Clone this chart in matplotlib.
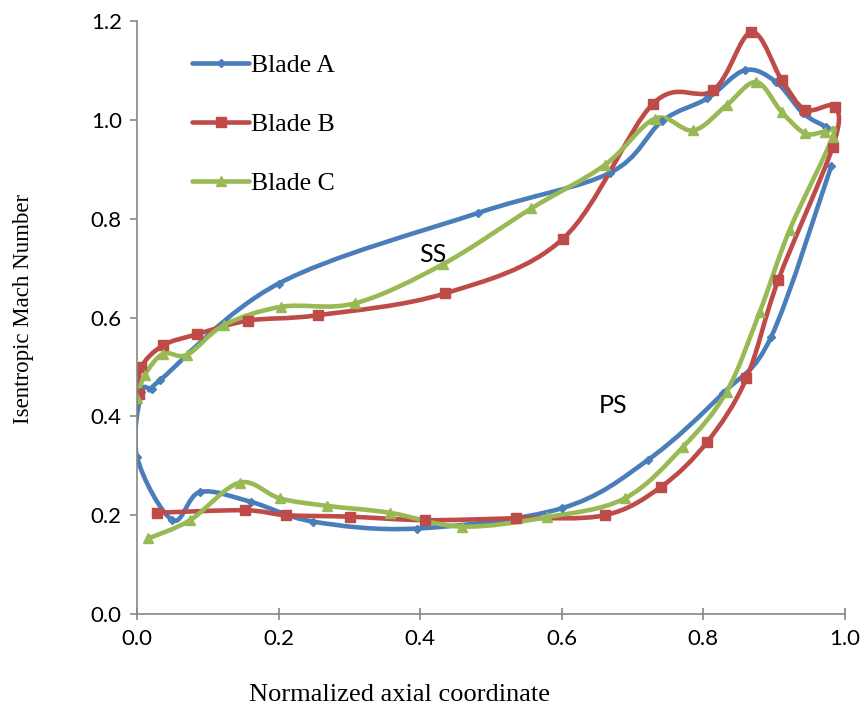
import numpy as np
import matplotlib.pyplot as plt
from matplotlib.path import Path
from matplotlib.patches import PathPatch
from matplotlib.lines import Line2D

# blade A: suction side from trailing edge round the leading edge, then pressure side
blade_a_x = [0.974, 0.941, 0.903, 0.859, 0.806, 0.742, 0.668, 0.482, 0.200,
             0.033, 0.021, 0.006, 0.000,
             0.050, 0.089, 0.161, 0.249, 0.395, 0.600, 0.722, 0.828, 0.896, 0.981]
blade_a_y = [0.986, 1.014, 1.077, 1.101, 1.044, 0.998, 0.893, 0.812, 0.669,
             0.474, 0.455, 0.449, 0.318,
             0.190, 0.247, 0.227, 0.187, 0.173, 0.214, 0.312, 0.447, 0.561, 0.907]

# blade B: suction side from leading edge to trailing edge, then pressure side back
blade_b_x = [0.003, 0.006, 0.037, 0.084, 0.157, 0.256, 0.435, 0.602, 0.729,
             0.814, 0.868, 0.911, 0.944, 0.986, 0.983,
             0.906, 0.861, 0.806, 0.741, 0.661, 0.536, 0.407, 0.301, 0.211,
             0.152, 0.028]
blade_b_y = [0.445, 0.500, 0.544, 0.566, 0.594, 0.605, 0.649, 0.760, 1.033,
             1.060, 1.178, 1.081, 1.021, 1.027, 0.946,
             0.676, 0.477, 0.349, 0.258, 0.200, 0.194, 0.190, 0.197, 0.200,
             0.210, 0.205]

# blade C: same ordering as blade B
blade_c_x = [0.000, 0.011, 0.037, 0.071, 0.123, 0.204, 0.308, 0.432, 0.557,
             0.661, 0.732, 0.786, 0.833, 0.875, 0.911, 0.944, 0.972, 0.983,
             0.922, 0.880, 0.833, 0.772, 0.689, 0.579, 0.459, 0.357, 0.268,
             0.202, 0.145, 0.075, 0.016]
blade_c_y = [0.438, 0.484, 0.527, 0.525, 0.585, 0.622, 0.629, 0.708, 0.821,
             0.909, 1.003, 0.979, 1.030, 1.077, 1.016, 0.973, 0.976, 0.966,
             0.777, 0.612, 0.450, 0.339, 0.234, 0.196, 0.177, 0.205, 0.219,
             0.234, 0.266, 0.190, 0.153]

labels = ['Blade A', 'Blade B', 'Blade C']
colors = ['#4A7EBB', '#BE4B48', '#98B954']
markers = ['D', 's', '^']
marker_sizes = [4.5, 6.5, 7]

x_ticks = [0.0, 0.2, 0.4, 0.6, 0.8, 1.0]
y_ticks = [0.0, 0.2, 0.4, 0.6, 0.8, 1.0, 1.2]

tick_font = 'Lato'
serif = 'Liberation Serif'
axis_gray = '#868686'


def smooth_path(xs, ys):
    # bezier segments through every point, tangents from the neighbours (excel style)
    p = np.column_stack([xs, ys])
    n = len(p)
    verts = [p[0]]
    codes = [Path.MOVETO]
    for i in range(n - 1):
        prev = p[i - 1] if i > 0 else p[i]
        nxt = p[i + 2] if i + 2 < n else p[i + 1]
        c1 = p[i] + (p[i + 1] - prev) / 6.0
        c2 = p[i + 1] - (nxt - p[i]) / 6.0
        verts += [c1, c2, p[i + 1]]
        codes += [Path.CURVE4] * 3
    return Path(verts, codes)


fig = plt.figure(figsize=(8.62, 7.09), dpi=100)
ax = fig.add_axes([0.159, 0.134, 0.821, 0.836])

series = [(blade_a_x, blade_a_y), (blade_b_x, blade_b_y), (blade_c_x, blade_c_y)]
handles = []
for (xs, ys), lab, col, mk, ms in zip(series, labels, colors, markers, marker_sizes):
    ax.add_patch(PathPatch(smooth_path(xs, ys), fill=False, edgecolor=col,
                           lw=3.3, capstyle='round', joinstyle='round'))
    ax.plot(xs, ys, linestyle='none', marker=mk, ms=ms, color=col)
    handles.append(Line2D([], [], color=col, lw=3.3, marker=mk, ms=ms,
                          solid_capstyle='round'))

ax.text(0.418, 0.727, 'SS', fontsize=18, family=tick_font, ha='center', va='center')
ax.text(0.672, 0.423, 'PS', fontsize=18, family=tick_font, ha='center', va='center')

ax.set_xlim(0, 1.0)
ax.set_ylim(0, 1.2)
ax.set_xticks(x_ticks)
ax.set_yticks(y_ticks)
ax.set_xticklabels([f'{v:.1f}' for v in x_ticks], family=tick_font, fontsize=16)
ax.set_yticklabels([f'{v:.1f}' for v in y_ticks], family=tick_font, fontsize=16)

for side in ['top', 'right']:
    ax.spines[side].set_visible(False)
for side in ['left', 'bottom']:
    ax.spines[side].set_color(axis_gray)
    ax.spines[side].set_linewidth(1.2)
ax.tick_params(axis='x', direction='inout', length=9, width=1.2, color=axis_gray, pad=6)
ax.tick_params(axis='y', direction='out', length=5, width=1.2, color=axis_gray, pad=6)

ax.set_xlabel('Normalized axial coordinate', family=serif, fontsize=19)
ax.xaxis.set_label_coords(0.371, -0.118)
ax.set_ylabel('Isentropic Mach Number', family=serif, fontsize=16.5)
ax.yaxis.set_label_coords(-0.145, 0.514)

ax.legend(handles, labels, loc='upper left', bbox_to_anchor=(0.078, 0.944),
          frameon=False, prop={'family': serif, 'size': 18.5}, numpoints=1,
          handlelength=2.2, handletextpad=0.1, labelspacing=1.4,
          borderpad=0, borderaxespad=0)

fig.savefig('out.png', dpi=100)
